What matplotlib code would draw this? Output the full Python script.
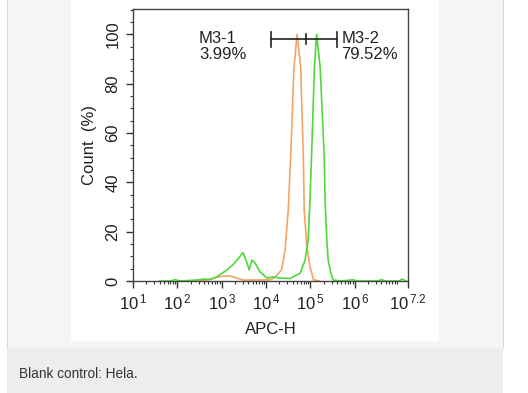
import matplotlib
matplotlib.use("Agg")
import matplotlib.pyplot as plt
import numpy as np
from matplotlib.patches import Rectangle
from matplotlib.ticker import FixedLocator, LogLocator, NullFormatter, MultipleLocator

plt.rcParams["font.family"] = ["Liberation Sans", "DejaVu Sans"]
plt.rcParams["mathtext.fontset"] = "custom"
plt.rcParams["mathtext.rm"] = "Liberation Sans"
plt.rcParams["mathtext.it"] = "Liberation Sans"

# histogram traces (log10 of APC-H, count %)
blank_lg = [2.0, 2.45, 2.67, 2.89, 3.03, 3.19, 3.34, 3.48, 3.8, 4.1, 4.2, 4.35, 4.43,
            4.50, 4.56, 4.63, 4.70, 4.78, 4.84, 4.86, 4.92, 4.99, 5.07, 5.2]
blank_val = [0.0, 0.0, 0.4, 1.5, 2.0, 2.0, 1.2, 0.4, 0.4, 0.5, 1.5, 4.5, 12.6,
             28.8, 53, 86.6, 100, 86.6, 51, 28.8, 14, 5.8, 0.5, 0.0]

hela_lg = [1.6, 1.85, 1.95, 2.05, 2.44, 2.6, 2.75, 2.89, 3.12, 3.25, 3.41, 3.48, 3.57,
           3.62, 3.68, 3.75, 3.86, 4.02, 4.16, 4.31, 4.54, 4.77, 4.88, 4.95, 4.99,
           5.03, 5.09, 5.14, 5.22, 5.31, 5.33, 5.37, 5.40, 5.46, 5.51, 5.7, 5.96,
           6.05, 6.5, 6.6, 6.7, 7.0, 7.07, 7.15]
hela_val = [0.0, 0.0, 0.6, 0.0, 0.4, 0.8, 0.6, 1.7, 4.5, 6.5, 9.9, 11.5, 7.3,
            4.5, 8.5, 7.3, 3.8, 1.2, 1.7, 1.2, 1.0, 3.2, 8.5, 16.6, 33,
            53, 86.6, 100, 86.6, 51, 33, 16.6, 8.5, 3.2, 0.4, 0.0, 0.5,
            0.0, 0.0, 0.5, 0.0, 0.0, 0.8, 0.0]

# gates
gate1 = (4.11, 4.90)
gate2 = (4.90, 5.60)
gate_y = 98.2
gate1_label = "M3-1\n3.99%"
gate2_label = "M3-2\n79.52%"

xticks_lg = [1, 2, 3, 4, 5, 6, 7.2]
xtick_labels = [r"$10^{\,1}$", r"$10^{\,2}$", r"$10^{\,3}$", r"$10^{\,4}$",
                r"$10^{\,5}$", r"$10^{\,6}$", r"$10^{\,7.2}$"]
yticks = [0, 20, 40, 60, 80, 100]

W, H = 528, 393
fig = plt.figure(figsize=(W / 100, H / 100), dpi=100)
fig.patch.set_facecolor("white")


def px_rect(x0, y0, x1, y1, **kw):
    r = Rectangle((x0 / W, 1 - y1 / H), (x1 - x0) / W, (y1 - y0) / H,
                  transform=fig.transFigure, zorder=-5, **kw)
    fig.patches.append(r)


px_rect(7, -2, 503, 347.5, facecolor="#f4f6f6", edgecolor="#d8dada", linewidth=0.8)
px_rect(71, -2, 439, 341, facecolor="white", edgecolor="none")
px_rect(7, 348, 503, 395, facecolor="#eceeee", edgecolor="none")
fig.text(19 / W, 1 - 374 / H, "Blank control: Hela.", fontsize=9.8, color="#333333",
         va="center", ha="left")

ax = fig.add_axes([133 / W, 1 - 281 / H, 275 / W, 272 / H])
ax.set_zorder(2)
ax.plot(10 ** np.array(blank_lg), blank_val, color="#f4a466", lw=1.2)
ax.plot(10 ** np.array(hela_lg), hela_val, color="#4fd83a", lw=1.2)

ax.set_xscale("log")
ax.set_xlim(10, 10 ** 7.2)
ax.set_ylim(0, 110.3)

# gate markers
for lo, hi in (gate1, gate2):
    ax.plot([10 ** lo, 10 ** hi], [gate_y, gate_y], color="#222222", lw=1.2)
for g, half in ((gate1[0], 3.3), (gate1[1], 2.2), (gate2[1], 3.3)):
    ax.plot([10 ** g, 10 ** g], [gate_y - half, gate_y + half * 0.9], color="#222222", lw=1.2)
ax.text(10 ** 2.49, 95, gate1_label, fontsize=12, va="center", ha="left",
        linespacing=1.05, color="#222222")
ax.text(10 ** 5.70, 95, gate2_label, fontsize=12, va="center", ha="left",
        linespacing=1.05, color="#222222")

for s in ax.spines.values():
    s.set_color("#444444")
    s.set_linewidth(1.0)

ax.xaxis.set_major_locator(FixedLocator([10 ** v for v in xticks_lg]))
ax.set_xticklabels(xtick_labels)
ax.xaxis.set_minor_locator(LogLocator(base=10, subs=np.arange(2, 10), numticks=20))
ax.xaxis.set_minor_formatter(NullFormatter())
ax.set_yticks(yticks)
ax.yaxis.set_minor_locator(MultipleLocator(5))
ax.tick_params(axis="both", which="major", direction="out", length=5, width=1,
               color="#333333", labelsize=12, labelcolor="#222222")
ax.tick_params(axis="both", which="minor", direction="out", length=2.5, width=0.8,
               color="#333333")
ax.tick_params(axis="y", labelrotation=90, pad=4)
for lab in ax.get_yticklabels():
    lab.set_va("center")

ax.set_xlabel("APC-H", fontsize=12, labelpad=7, color="#222222")
ax.set_ylabel("Count  (%)", fontsize=12, labelpad=6, color="#222222")

fig.savefig("out.png", dpi=100)
